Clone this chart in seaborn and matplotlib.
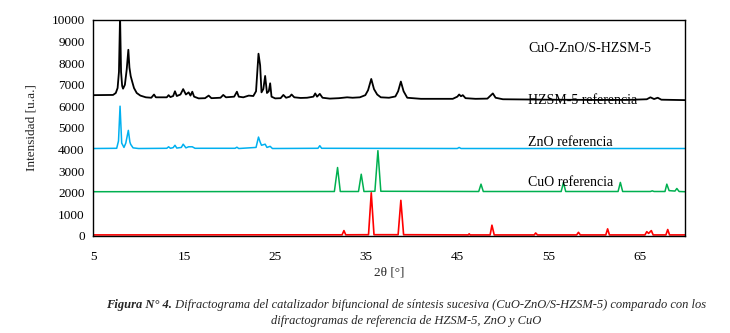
import numpy as np
import pandas as pd
import matplotlib
matplotlib.use("Agg")
import matplotlib.pyplot as plt
import seaborn as sns

# 2theta / intensity vertices
cat_x = [5.0, 7.2, 7.5, 7.7, 7.85, 7.97, 8.08, 8.2, 8.3, 8.5, 8.7, 8.88, 9.0, 9.14, 9.3,
         9.5, 9.8, 10.2, 10.8, 11.4, 11.7, 11.9, 13.1, 13.3, 13.5, 13.8, 14.0, 14.2, 14.6,
         14.9, 15.2, 15.5, 15.7, 15.9, 16.1, 16.6, 17.3, 17.7, 18.0, 19.0, 19.3, 19.6,
         20.5, 20.8, 21.0, 21.5, 22.1, 22.6, 22.9, 23.17, 23.35, 23.5, 23.7, 23.9, 24.1,
         24.3, 24.45, 24.6, 25.0, 25.6, 25.9, 26.2, 26.6, 26.8, 27.1, 27.8, 28.5, 29.2,
         29.4, 29.6, 29.9, 30.2, 31.0, 32.0, 32.9, 33.5, 34.3, 34.9, 35.2, 35.55, 35.85,
         36.2, 36.6, 37.5, 38.2, 38.5, 38.8, 39.1, 39.5, 41.0, 43.0, 44.5, 45.0, 45.2,
         45.4, 45.6, 45.9, 47.0, 48.3, 48.7, 48.9, 49.2, 50.0, 55.0, 60.0, 63.6, 65.8,
         66.2, 66.6, 67.0, 67.4, 70.0]
cat_y = [6520, 6530, 6620, 6850, 7600, 10200, 7600, 6950, 6820, 7000, 7700, 8620, 7800, 7400,
         7150, 6850, 6620, 6500, 6420, 6400, 6550, 6420, 6420, 6520, 6430, 6480, 6700, 6480,
         6550, 6800, 6550, 6650, 6500, 6680, 6450, 6370, 6380, 6500, 6380, 6400, 6530, 6420,
         6450, 6680, 6450, 6420, 6500, 6480, 6700, 8440, 7900, 6650, 6800, 7410, 6620,
         6700, 7070, 6450, 6370, 6380, 6530, 6400, 6450, 6550, 6420, 6390, 6400, 6450,
         6600, 6450, 6580, 6400, 6360, 6380, 6420, 6400, 6420, 6520, 6750, 7270, 6800,
         6550, 6420, 6400, 6460, 6700, 7150, 6700, 6400, 6350, 6350, 6350, 6450, 6550,
         6470, 6520, 6380, 6350, 6360, 6520, 6600, 6400, 6330, 6310, 6300, 6300, 6330,
         6420, 6340, 6400, 6310, 6290]

hzsm_x = [5.0, 7.6, 7.8, 7.97, 8.15, 8.4, 8.6, 8.88, 9.05, 9.14, 9.4, 10.0, 13.1, 13.3,
          13.5, 13.8, 14.0, 14.2, 14.7, 14.9, 15.2, 15.5, 15.9, 16.2, 20.6, 20.8, 21.0,
          22.9, 23.17, 23.35, 23.5, 23.9, 24.1, 24.45, 24.7, 29.7, 29.9, 30.1, 45.0,
          45.2, 45.4, 70.0]
hzsm_y = [4050, 4060, 4400, 6010, 4300, 4100, 4300, 4890, 4350, 4240, 4080, 4050, 4060, 4130,
          4060, 4090, 4200, 4070, 4100, 4250, 4080, 4130, 4130, 4060, 4060, 4110, 4050,
          4100, 4580, 4350, 4200, 4250, 4100, 4150, 4050, 4060, 4180, 4060, 4050,
          4100, 4050, 4050]

zno_x = [5.0, 31.5, 31.85, 32.15, 34.15, 34.45, 34.75, 35.95, 36.28, 36.6, 47.35, 47.6,
         47.85, 56.4, 56.65, 56.9, 62.65, 62.9, 63.15, 66.2, 66.4, 66.6, 67.8, 68.0,
         68.25, 68.9, 69.1, 69.35, 70.0]
zno_y = [2050, 2060, 3170, 2060, 2060, 2860, 2060, 2070, 3950, 2070, 2060, 2400,
         2060, 2060, 2470, 2060, 2060, 2480, 2060, 2060, 2090, 2060, 2060, 2400,
         2100, 2080, 2200, 2060, 2050]

cuo_x = [5.0, 32.35, 32.55, 32.75, 35.25, 35.55, 35.85, 38.5, 38.8, 39.1, 46.2, 46.3, 46.4,
         48.6, 48.8, 49.05, 53.45, 53.6, 53.8, 58.1, 58.3, 58.5, 61.3, 61.5, 61.7, 65.6,
         65.8, 66.0, 66.3, 66.5, 67.9, 68.1, 68.3, 70.0]
cuo_y = [50, 55, 250, 55, 60, 2000, 60, 60, 1650, 60, 50, 100, 50,
         50, 500, 50, 50, 140, 50, 50, 170, 50, 50, 330, 50, 50,
         200, 120, 250, 50, 50, 300, 50, 50]

labels = ["CuO-ZnO/S-HZSM-5", "HZSM-5 referencia", "ZnO referencia", "CuO referencia"]
label_y = [8700, 6290, 4320, 2460]
x_ticks = [5, 15, 25, 35, 45, 55, 65]
y_ticks = list(range(0, 10001, 1000))

sns.set_theme(style="white")
plt.rcParams["font.family"] = ["Liberation Serif", "DejaVu Serif"]

fig = plt.figure(figsize=(7.3, 3.33), dpi=100)
ax = fig.add_axes([0.1274, 0.2913, 0.8110, 0.6487])

traces = [(cat_x, cat_y, "black", 1.3), (hzsm_x, hzsm_y, "#00B0F0", 1.1),
          (zno_x, zno_y, "#00B050", 1.1), (cuo_x, cuo_y, "#FF0000", 1.2)]
for xs, ys, col, lw in traces:
    df = pd.DataFrame({"x": xs, "y": ys})
    sns.lineplot(data=df, x="x", y="y", color=col, linewidth=lw, ax=ax,
                 estimator=None, sort=False)

for lab, ly in zip(labels, label_y):
    ax.text(52.8, ly, lab, fontsize=10, va="center", ha="left", color="black")

ax.set_xlim(5, 70)
ax.set_ylim(0, 10000)
ax.set_xticks(x_ticks)
ax.set_yticks(y_ticks)
ax.tick_params(axis="both", length=0, labelsize=9.5, colors="black")
ax.tick_params(axis="x", pad=11)
ax.tick_params(axis="y", pad=6)
ax.set_xlabel("2θ [°]", fontsize=9.5, labelpad=2)
ax.set_ylabel("Intensidad [u.a.]", fontsize=9.5, labelpad=10)
for sp in ax.spines.values():
    sp.set_color("black")
    sp.set_linewidth(1.0)

# caption, first words in bold italic
fig.canvas.draw()
r = fig.canvas.get_renderer()
cap_size = 9
t1 = fig.text(0, 0.076, "Figura N° 4.", fontsize=cap_size, style="italic", weight="bold")
t2 = fig.text(0, 0.076, " Difractograma del catalizador bifuncional de síntesis sucesiva "
              "(CuO-ZnO/S-HZSM-5) comparado con los", fontsize=cap_size, style="italic")
w1 = t1.get_window_extent(r).width
w2 = t2.get_window_extent(r).width
x0 = 406 - (w1 + w2) / 2
t1.set_x(x0 / 730)
t2.set_x((x0 + w1) / 730)
fig.text(406 / 730, 0.028, "difractogramas de referencia de HZSM-5, ZnO y CuO",
         fontsize=cap_size, style="italic", ha="center")

fig.savefig("out.png", dpi=100)
